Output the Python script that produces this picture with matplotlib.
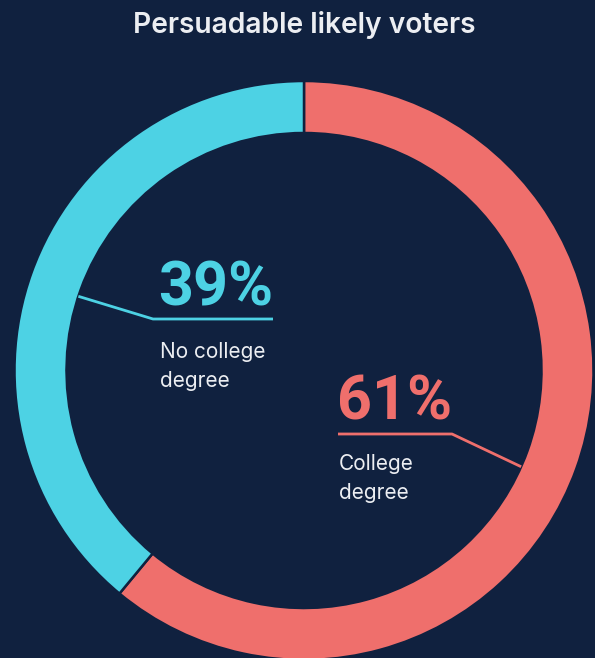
import numpy as np
import matplotlib
matplotlib.use("Agg")
import matplotlib.pyplot as plt

# data
labels = ["College\ndegree", "No college\ndegree"]
shares = [61, 39]

BG = "#10213f"
C_CORAL = "#ef6f6c"
C_CYAN = "#4dd2e4"
C_TEXT = "#eceef2"
colors = [C_CORAL, C_CYAN]

W, H = 595, 658
CX, CY = 304, 370.5        # ring centre (pixels from top-left)
R_OUT, R_IN = 289.5, 237.5


def py(y):
    return H - y


fig = plt.figure(figsize=(W / 100, H / 100), dpi=100, facecolor=BG)
ax = fig.add_axes([0, 0, 1, 1])
ax.set_facecolor(BG)

wedges, _ = ax.pie(shares, colors=colors, startangle=90, counterclock=False,
                   center=(CX, py(CY)), radius=R_OUT,
                   wedgeprops=dict(width=R_OUT - R_IN, edgecolor=BG, linewidth=1.8))

ax.set_xlim(0, W)
ax.set_ylim(0, H)
ax.set_aspect("equal")
ax.axis("off")

ax.text(CX, py(33), "Persuadable likely voters", ha="center", va="baseline",
        fontsize=20.3, fontweight="semibold", family="Inter", color=C_TEXT)

# label layout: (text left x, number baseline y, elbow x, line end x, line y,
# anchor offset in degrees from the wedge middle)
layout = [
    dict(x=339, num_y=420, elbow=452, end=338, line_y=434, lab_y=470, off=-4.1),
    dict(x=160, num_y=305, elbow=153, end=273, line_y=319, lab_y=358, off=1.6),
]

for w, pct, lab, lay, col in zip(wedges, shares, labels, layout, colors):
    mid = np.deg2rad((w.theta1 + w.theta2) / 2 + lay["off"])
    ex = CX + R_IN * np.cos(mid)
    ey = py(CY) + R_IN * np.sin(mid)
    ax.plot([ex, lay["elbow"], lay["end"]],
            [ey, py(lay["line_y"]), py(lay["line_y"])],
            color=col, lw=2, solid_capstyle="butt", zorder=3)
    ax.text(lay["x"] - 2, py(lay["num_y"]), f"{pct}%", ha="left", va="baseline",
            fontsize=44, fontweight="bold", family="Roboto", color=col)
    for i, line in enumerate(lab.split("\n")):
        ax.text(lay["x"], py(lay["lab_y"] + i * 29), line, ha="left", va="baseline",
                fontsize=15, family="Inter", color=C_TEXT)

fig.savefig("out.png", dpi=100, facecolor=BG)
